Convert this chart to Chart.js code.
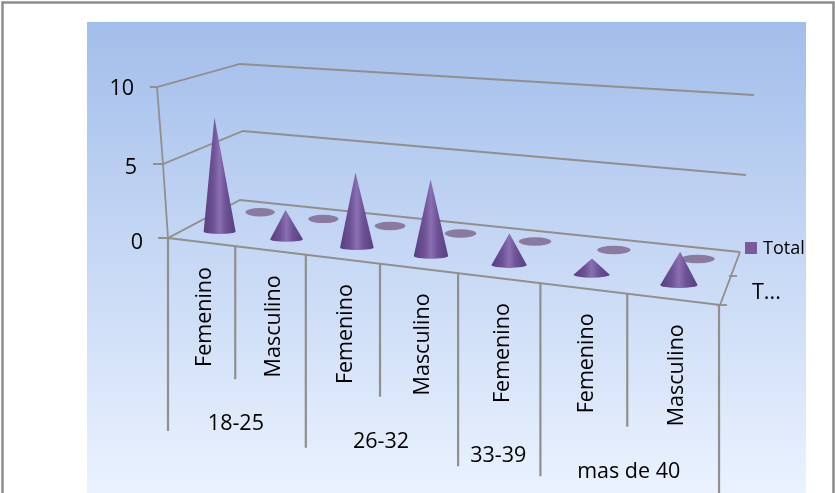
<!DOCTYPE html>
<html>
<head>
<meta charset="utf-8">
<style>html,body{margin:0;padding:0;background:#fff}canvas{display:block}</style>
<script src="https://cdn.jsdelivr.net/npm/chart.js@4"></script>
</head>
<body>
<canvas id="c" width="835" height="493"></canvas>
<script>
// ---- data ----
const sexLabels = ['Femenino','Masculino','Femenino','Masculino','Femenino','Femenino','Masculino'];
const ageGroups = ['18-25','26-32','33-39','mas de 40'];
const ageGroupSpans = [2,2,1,2];
const totalValues = [8,2,5,5,2,1,2];
const backRowValues = [0,0,0,0,0,0,0];
const seriesName = 'Total';
const depthLabel = 'T...';
const yTickValues = [0,5,10];

// ---- 3D look: projection of the floor ----
const FONT = '"Open Sans", sans-serif';
const GREY = '#918f8c';
const persp = i => 1 / (1 - 0.02374 * i);
const frontX = i => (61.65 * i + 168) * persp(i);
const frontY = x => 238 + 0.1214 * (x - 168);
function floorPoint(i, v, extraX) {
  const u = i / 7, x = frontX(i);
  return { x: x + v * (72 - 52 * u) + (extraX || 0), y: frontY(x) + v * (-38 - 16 * u) };
}
const wall = [ // left tick end, front corner, back corner, far end for each y tick
  { t:158, f:[168,238], b:[240,200], r:[740,252] },
  { t:153, f:[163,164], b:[243,131], r:[746,175] },
  { t:150, f:[157,87],  b:[240,64],  r:[754,95] }
];
const yLabelShift = [-25, -31, -34];
const yLabelDy = [2, 3, 1];

function line(ctx, pts, w, col) {
  ctx.beginPath();
  pts.forEach((p, k) => k ? ctx.lineTo(p[0], p[1]) : ctx.moveTo(p[0], p[1]));
  ctx.lineWidth = w; ctx.strokeStyle = col || GREY; ctx.stroke();
}

function drawCone(ctx, el, idx) {
  const i = idx + 0.5, p = persp(i);
  const b = floorPoint(i, 0.27);
  const r = el.width / 2 * p, ry = r * 0.16;
  const h = (el.base - el.y) * 0.92 * p;
  const lean = (i / 7 - 0.55) * 1.43 * h / 15;
  const g = ctx.createLinearGradient(b.x - r, 0, b.x + r, 0);
  g.addColorStop(0, '#573f81'); g.addColorStop(0.3, '#6d5195');
  g.addColorStop(0.5, '#8a6fb2'); g.addColorStop(0.7, '#6d5195'); g.addColorStop(1, '#583f82');
  ctx.beginPath();
  ctx.moveTo(b.x + lean, b.y - h);
  ctx.lineTo(b.x + r, b.y);
  ctx.ellipse(b.x, b.y, r, ry, 0, 0, Math.PI);
  ctx.closePath();
  ctx.fillStyle = g; ctx.fill();
}
function drawDisc(ctx, el, idx) {
  const i = idx + 0.5, p = persp(i);
  const b = floorPoint(i, 0.76, 7);
  const r = el.width / 2 * p;
  ctx.beginPath();
  ctx.ellipse(b.x, b.y, r * 0.92, 4.2, 0, 0, Math.PI * 2);
  ctx.fillStyle = '#8a7a9f'; ctx.fill();
}

const scene = {
  id: 'scene',
  beforeDraw(chart) {
    const ctx = chart.ctx;
    ctx.save();
    ctx.fillStyle = '#fff'; ctx.fillRect(0, 0, 835, 493);
    const g = ctx.createLinearGradient(0, 22, 0, 493);
    g.addColorStop(0, '#a3beeb'); g.addColorStop(1, '#eaf2fe');
    ctx.fillStyle = g; ctx.fillRect(87, 22, 719, 471);
    line(ctx, [[2.5,493],[2.5,2.5],[833.5,2.5],[833.5,493]], 2.5, '#8c8c8c');
    // walls and floor
    const sy = chart.scales.y;
    sy.ticks.forEach((t, k) => {
      const w = wall[k];
      line(ctx, [[w.t, w.f[1]], w.f, w.b, w.r], 1.8);
    });
    line(ctx, [wall[2].f, wall[1].f, wall[0].f], 1.8);
    line(ctx, [wall[0].f, [720,305], wall[0].r], 1.8);
    line(ctx, [[729,276],[737,276]], 1.8);
    // category dividers
    const sx = chart.scales.x;
    let starts = [0]; ageGroupSpans.forEach(n => starts.push(starts[starts.length-1] + n));
    for (let i = 0; i <= sexLabels.length; i++) {
      const x = frontX(i), y = frontY(x);
      line(ctx, [[x, y], [x, Math.min(493, y + (starts.includes(i) ? 193 : 133))]], 2.2);
    }
    line(ctx, [[716,305],[727,305]], 1.8);
    // move the x tick labels and y tick labels onto the tilted axes
    if (!sx._moved) {
      sx.getLabelItems().forEach((it, i) => {
        const x = frontX(i + 0.5);
        it.options.translation = [x - 9, frontY(x) + 25];
      });
      sy.getLabelItems().forEach((it, k) => {
        it.options.translation = [168 + yLabelShift[k], sy.getPixelForValue(sy.ticks[k].value) + yLabelDy[k]];
      });
      sx._moved = true;
    }
    ctx.restore();
  },
  beforeDatasetDraw(chart, args) {
    const ctx = chart.ctx;
    const meta = args.meta;
    ctx.save();
    meta.data.forEach((el, idx) => (args.index === 0 ? drawCone : drawDisc)(ctx, el, idx));
    ctx.restore();
    return false;
  },
  afterDraw(chart) {
    const ctx = chart.ctx;
    ctx.save();
    ctx.fillStyle = '#000';
    ctx.font = '21.5px ' + FONT;
    ctx.textAlign = 'center'; ctx.textBaseline = 'middle';
    let s = 0;
    ageGroups.forEach((g, k) => {
      const x = (frontX(s) + frontX(s + ageGroupSpans[k])) / 2;
      ctx.fillText(g, x - 1, frontY(x) + 178);
      s += ageGroupSpans[k];
    });
    ctx.textAlign = 'left';
    ctx.fillText(depthLabel, 752, 293);
    ctx.font = '18px ' + FONT;
    ctx.fillStyle = '#7a5a9a'; ctx.fillRect(745, 242, 12, 12);
    ctx.fillStyle = '#000';
    ctx.fillText(seriesName, 763, 249);
    ctx.restore();
  }
};

new Chart(document.getElementById('c'), {
  type: 'bar',
  data: {
    labels: sexLabels,
    datasets: [
      { label: seriesName, data: totalValues, backgroundColor: '#7a5a9a', barPercentage: 0.4, categoryPercentage: 1, grouped: false, order: 1 },
      { label: depthLabel, data: backRowValues, backgroundColor: '#8d7ea3', barPercentage: 0.4, categoryPercentage: 1, grouped: false, order: 2 }
    ]
  },
  options: {
    responsive: false,
    animation: false,
    devicePixelRatio: 1,
    layout: { padding: { left: 0, top: 88, right: 115, bottom: 0 } },
    plugins: { legend: { display: false }, tooltip: { enabled: false }, title: { display: false } },
    scales: {
      x: {
        grid: { display: false }, border: { display: false },
        afterFit: s => { s.height = 252; },
        ticks: { autoSkip: false, minRotation: 90, maxRotation: 90, padding: 0, color: '#000', font: { family: FONT, size: 21.5 } }
      },
      y: {
        min: 0, max: 10,
        grid: { display: false }, border: { display: false },
        afterFit: s => { s.width = 168; },
        afterBuildTicks: s => { s.ticks = yTickValues.map(v => ({ value: v })); },
        ticks: { padding: 0, color: '#000', font: { family: FONT, size: 21.5 } }
      }
    }
  },
  plugins: [scene]
});
</script>
</body>
</html>
